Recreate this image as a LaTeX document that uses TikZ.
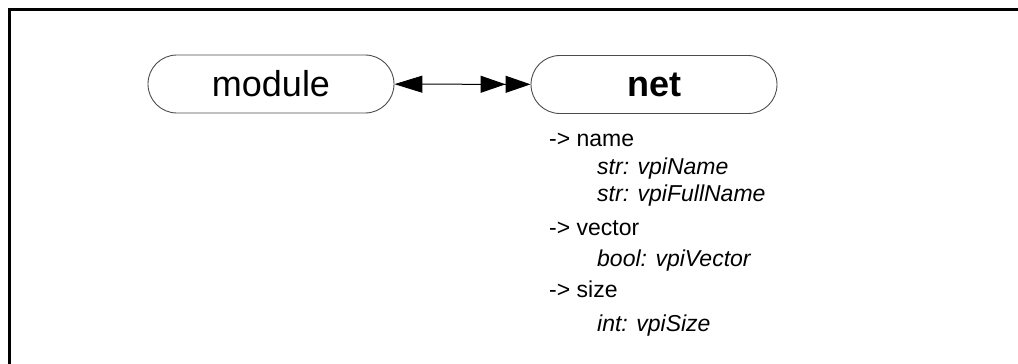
\documentclass[tikz,border=0pt]{standalone}
\usepackage{fontspec}
\setmainfont{Liberation Sans}
\usetikzlibrary{arrows.meta}
\begin{document}
\begin{tikzpicture}[x=1pt,y=-1pt,
  pill/.style={draw=black!70, line width=0.9pt, rounded corners=28.9pt, minimum width=246pt, minimum height=58pt, inner sep=0pt, font=\fontsize{36}{40}\selectfont},
  attr/.style={anchor=base west, inner sep=0pt, font=\fontsize{23}{26}\selectfont},
  sub/.style={anchor=base west, inner sep=0pt, font=\fontsize{23}{26}\selectfont\itshape},
  link/.style={line width=1pt, {Triangle[length=28pt,width=17pt]}-{Triangle[length=25pt,width=17pt,sep=0pt]Triangle[length=25pt,width=17pt]}}]
\useasboundingbox (0,0) rectangle (1018,364);
\draw[line width=3pt] (9.5,364) -- (9.5,9.5) -- (1018,9.5);
\node[pill] (module) at (271,84) {module};
\node[pill, font=\fontsize{36}{40}\selectfont\bfseries] (net) at (654,84.5) {net};
\draw[link] (module) -- (net);
\node[attr] (a1) at (549,146) {-> name};
\node[sub] (a2) at (597,174) {str: vpiName};
\node[sub] (a3) at (597,201) {str: vpiFullName};
\node[attr] (a4) at (549,235) {-> vector};
\node[sub] (a5) at (597,266) {bool: vpiVector};
\node[attr] (a6) at (549,297) {-> size};
\node[sub] (a7) at (597,331) {int: vpiSize};
\end{tikzpicture}
\end{document}
